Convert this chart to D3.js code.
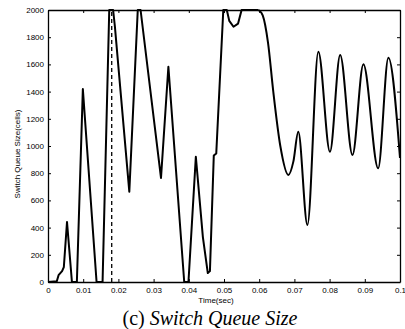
<!DOCTYPE html>
<html>
<head>
<meta charset="utf-8">
<script src="https://cdn.jsdelivr.net/npm/d3@7"></script>
<style>
  body { margin: 0; background: #fff; }
  .tick text { font-family: "Liberation Sans", Arial, sans-serif; font-size: 8px; }
</style>
</head>
<body>
<div id="chart"></div>
<script>
// data
const times = [0, 0.0025, 0.003, 0.004, 0.0045, 0.0054, 0.0068, 0.0082, 0.0099, 0.0138,
  0.0155, 0.0174, 0.0185, 0.019, 0.0231, 0.0255, 0.0263, 0.0321, 0.0342, 0.0387,
  0.0399, 0.042, 0.044, 0.0454, 0.046, 0.0471, 0.0478, 0.0498, 0.0508, 0.0515,
  0.0527, 0.054, 0.055, 0.0598,
  0.061, 0.0625, 0.064, 0.066, 0.0683, 0.0697, 0.0711, 0.0737, 0.0768, 0.0801,
  0.083, 0.0865, 0.0896, 0.0938, 0.0967, 0.1];
const queue = [0, 5, 50, 80, 110, 441, 0, 0, 1419, 0,
  0, 2000, 2000, 1880, 664, 2000, 2000, 765, 1583, 0,
  0, 921, 330, 66, 80, 930, 945, 2000, 2000, 1920,
  1877, 1900, 2000, 2000,
  1960, 1760, 1400, 1000, 787, 885, 1105, 419, 1693, 958,
  1669, 934, 1601, 836, 1649, 912];
const dashedTime = 0.0181;
const xTicks = [0, 0.01, 0.02, 0.03, 0.04, 0.05, 0.06, 0.07, 0.08, 0.09, 0.1];
const yTicks = [0, 200, 400, 600, 800, 1000, 1200, 1400, 1600, 1800, 2000];

const W = 405, H = 329;
const margin = { top: 10, right: 5, bottom: 47, left: 48 },
    width = W - margin.left - margin.right,
    height = H - margin.top - margin.bottom;

const svg = d3.select("#chart")
    .append("svg")
    .attr("width", W)
    .attr("height", H);

const g = svg.append("g")
    .attr("transform", `translate(${margin.left},${margin.top})`);

const x = d3.scaleLinear().domain([0, 0.1]).range([0, width]);
const y = d3.scaleLinear().domain([0, 2000]).range([height, 0]);

const fmt = d => d === 0 ? "0" : String(d);

// axes, matlab style: ticks inside, box all round
g.append("g")
    .attr("transform", `translate(0,${height})`)
    .call(d3.axisBottom(x).tickValues(xTicks).tickFormat(fmt).tickSizeInner(-3).tickSizeOuter(0).tickPadding(5));
g.append("g")
    .call(d3.axisTop(x).tickValues(xTicks).tickFormat("").tickSizeInner(-3).tickSizeOuter(0));
g.append("g")
    .call(d3.axisLeft(y).tickValues(yTicks).tickFormat(fmt).tickSizeInner(-3).tickSizeOuter(0).tickPadding(4));
g.append("g")
    .attr("transform", `translate(${width},0)`)
    .call(d3.axisRight(y).tickValues(yTicks).tickFormat("").tickSizeInner(-3).tickSizeOuter(0));

g.selectAll(".domain").attr("stroke", "#000").attr("stroke-width", 1.3);

// dashed marker
g.append("line")
    .attr("x1", x(dashedTime)).attr("x2", x(dashedTime))
    .attr("y1", y(0)).attr("y2", y(2000))
    .attr("stroke", "#000")
    .attr("stroke-width", 1.3)
    .attr("stroke-dasharray", "4,3");

// queue curve: sharp spikes early, smooth oscillation later
const pts = times.map((t, i) => [t, queue[i]]);
const split = times.indexOf(0.0598);
const lineSharp = d3.line().x(d => x(d[0])).y(d => y(d[1]));
const lineSmooth = d3.line().x(d => x(d[0])).y(d => y(d[1])).curve(d3.curveMonotoneX);

g.append("path")
    .attr("d", lineSharp(pts.slice(0, split + 1)))
    .attr("fill", "none")
    .attr("stroke", "#000")
    .attr("stroke-width", 2)
    .attr("stroke-linejoin", "round");
g.append("path")
    .attr("d", lineSmooth(pts.slice(split)))
    .attr("fill", "none")
    .attr("stroke", "#000")
    .attr("stroke-width", 2)
    .attr("stroke-linejoin", "round");

// labels
svg.append("text")
    .attr("transform", `translate(20,${margin.top + height / 2 + 8}) rotate(-90)`)
    .attr("text-anchor", "middle")
    .style("font-family", "Liberation Sans, Arial, sans-serif")
    .style("font-size", "8px")
    .text("Switch Queue Size(cells)");

svg.append("text")
    .attr("x", 216)
    .attr("y", 303)
    .attr("text-anchor", "middle")
    .style("font-family", "Liberation Sans, Arial, sans-serif")
    .style("font-size", "8px")
    .text("Time(sec)");

const title = svg.append("text")
    .attr("x", 210)
    .attr("y", 325)
    .attr("text-anchor", "middle")
    .style("font-family", "Liberation Serif, Times New Roman, serif")
    .style("font-size", "20px");
title.append("tspan").text("(c) ");
title.append("tspan").style("font-style", "italic").text("Switch Queue Size");
</script>
</body>
</html>
